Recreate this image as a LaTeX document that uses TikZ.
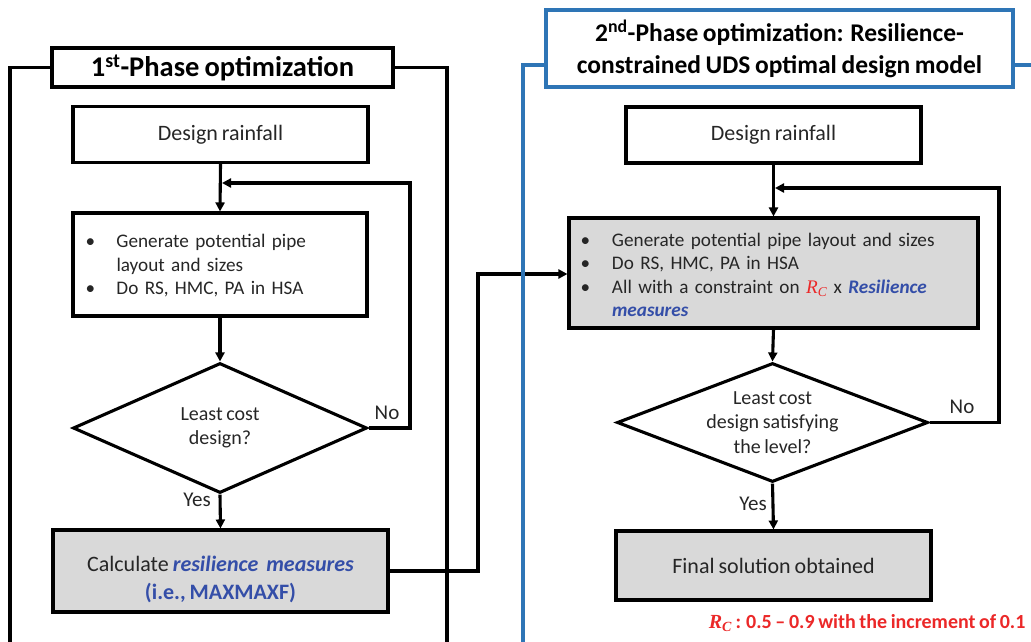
\documentclass[tikz,border=0pt]{standalone}
\usepackage{fontspec}
\setmainfont{Carlito}[WordSpace=0.8]
\newfontfamily\rcfont{Liberation Serif}[WordSpace=0.8]
\usetikzlibrary{arrows.meta,shapes.geometric,calc}
\definecolor{txt}{RGB}{38,38,38}
\definecolor{boxgray}{RGB}{217,217,217}
\definecolor{frameblue}{RGB}{46,117,182}
\definecolor{resblue}{RGB}{52,78,168}
\definecolor{resred}{RGB}{235,40,40}
\newcommand{\RC}{{\rcfont\itshape R\textsubscript{C}}}
\begin{document}
\begin{tikzpicture}[x=1pt,y=-1pt,
  line width=3.1pt,
  every node/.style={text=txt, font=\fontsize{22}{26.5}\selectfont},
  box/.style={draw=black, rectangle, inner sep=0pt, align=center},
  graybox/.style={box, fill=boxgray},
  dia/.style={draw=black, diamond, inner sep=0pt},
  arr/.style={draw=black, -{Triangle[length=9pt,width=9pt]}},
  lbl/.style={inner sep=0pt, font=\fontsize{21}{24}\selectfont},
  difont/.style={font=\fontsize{20}{24.5}\selectfont},
  bulfont/.style={font=\fontsize{19.2}{23.4}\selectfont},
  titlebox/.style={draw=black, fill=white, rectangle, inner sep=0pt, align=center, font=\fontsize{28.5}{32}\selectfont\bfseries, text=black}
]
\useasboundingbox (0,0) rectangle (1031,641);

% ---------- left column ----------
\node[box, minimum width=295pt, minimum height=56pt] (r1) at (220.5,134.5) {Design rainfall};
\node[box, bulfont, minimum width=294pt, minimum height=103pt, text width=280pt, align=left] (b1) at (220,264.5)
  {\raisebox{-2pt}[\height][\depth]{\hspace*{5.5pt}\begin{tabular}{@{}p{31pt}@{}l@{}}
   \textbullet & Generate potential pipe\\
    & layout and sizes\\
   \textbullet & Do RS, HMC, PA in HSA
   \end{tabular}}};
\node[dia, minimum width=294pt, minimum height=130pt] (d1) at (220,428) {};
\node[lbl, difont, align=center] (d1t) at (220,428) {Least cost\\design?};
\node[graybox, minimum width=335pt, minimum height=82pt] (c1) at (220.5,571)
  {\raisebox{-9pt}[\height][\depth]{\begin{tabular}{@{}c@{}}
   Calculate \textcolor{resblue}{\bfseries\itshape resilience\ \ measures}\\[1.5pt]
   \textcolor{resblue}{\bfseries (i.e., MAXMAXF)}\end{tabular}}};

\coordinate (j1) at (222,183);
\coordinate (lp1) at (410,183);
\draw[arr] (r1.south) -- (b1.north);
\draw[arr] (b1.south) -- (d1.north);
\draw[arr] (d1.east) -| (lp1) -- (j1);
\draw[arr] (d1.south) -- (c1.north);
\node[lbl] (no1) at (387,413) {No};
\node[lbl] (yes1) at (197,500) {Yes};

% ---------- right column ----------
\node[box, minimum width=295pt, minimum height=56pt] (r2) at (773.5,135) {Design rainfall};
\node[graybox, bulfont, minimum width=409pt, minimum height=110pt, text width=395pt, align=left] (b2) at (773.5,273)
  {\raisebox{-4pt}[\height][\depth]{\hspace*{4.5pt}\begin{tabular}{@{}p{31.5pt}@{}l@{}}
   \textbullet & Generate potential pipe layout and sizes\\
   \textbullet & Do RS, HMC, PA in HSA\\
   \textbullet & All with a constraint on \textcolor{resred}{\RC} x \textcolor{resblue}{\bfseries\itshape Resilience}\\
    & \textcolor{resblue}{\bfseries\itshape measures}
   \end{tabular}}};
\node[dia, minimum width=311pt, minimum height=119pt] (d2) at (772.5,422.5) {};
\node[lbl, difont, align=center] (d2t) at (772.5,422.5) {Least cost\\design satisfying\\the level?};
\node[graybox, minimum width=315pt, minimum height=69pt] (f2) at (773.5,565.5) {Final solution obtained};

\coordinate (j2) at (775,188);
\coordinate (lp2) at (999,188);
\draw[arr] (r2.south) -- (b2.north);
\draw[arr] (b2.south) -- (d2.north);
\draw[arr] (d2.east) -| (lp2) -- (j2);
\draw[arr] (d2.south) -- (f2.north);
\node[lbl] (no2) at (962,407) {No};
\node[lbl] (yes2) at (753,504) {Yes};

% ---------- connector between phases ----------
\coordinate (k1) at (478,274);
\draw[arr] (c1.east) -| (k1) -- (k1 -| b2.west);

% ---------- frames ----------
\node[titlebox, minimum width=341pt, minimum height=39pt] (t1) at (222.5,67.5) {1\textsuperscript{st}-Phase optimization};
\draw[black] (t1.west) -- (10,67.5) -- (10,645);
\draw[black] (t1.east) -- (447,67.5) -- (447,645);

\node[titlebox, draw=frameblue, minimum width=467pt, minimum height=77pt,
      font=\fontsize{25.5}{32}\selectfont\bfseries] (t2) at (779.5,48.5)
  {2\textsuperscript{nd}-Phase optimization: Resilience-\\constrained UDS optimal design model};
\draw[frameblue] ([yshift=-16.5pt]t2.west) -- (523,65) -- (523,645);
\draw[frameblue] ([yshift=-16.5pt]t2.east) -- (1035,65);

% ---------- note ----------
\node[lbl, anchor=base east, text=resred, font=\fontsize{20}{22}\selectfont\bfseries] (note) at (1027,628)
  {\RC\ : 0.5 -- 0.9 with the increment of 0.1};
\end{tikzpicture}
\end{document}
